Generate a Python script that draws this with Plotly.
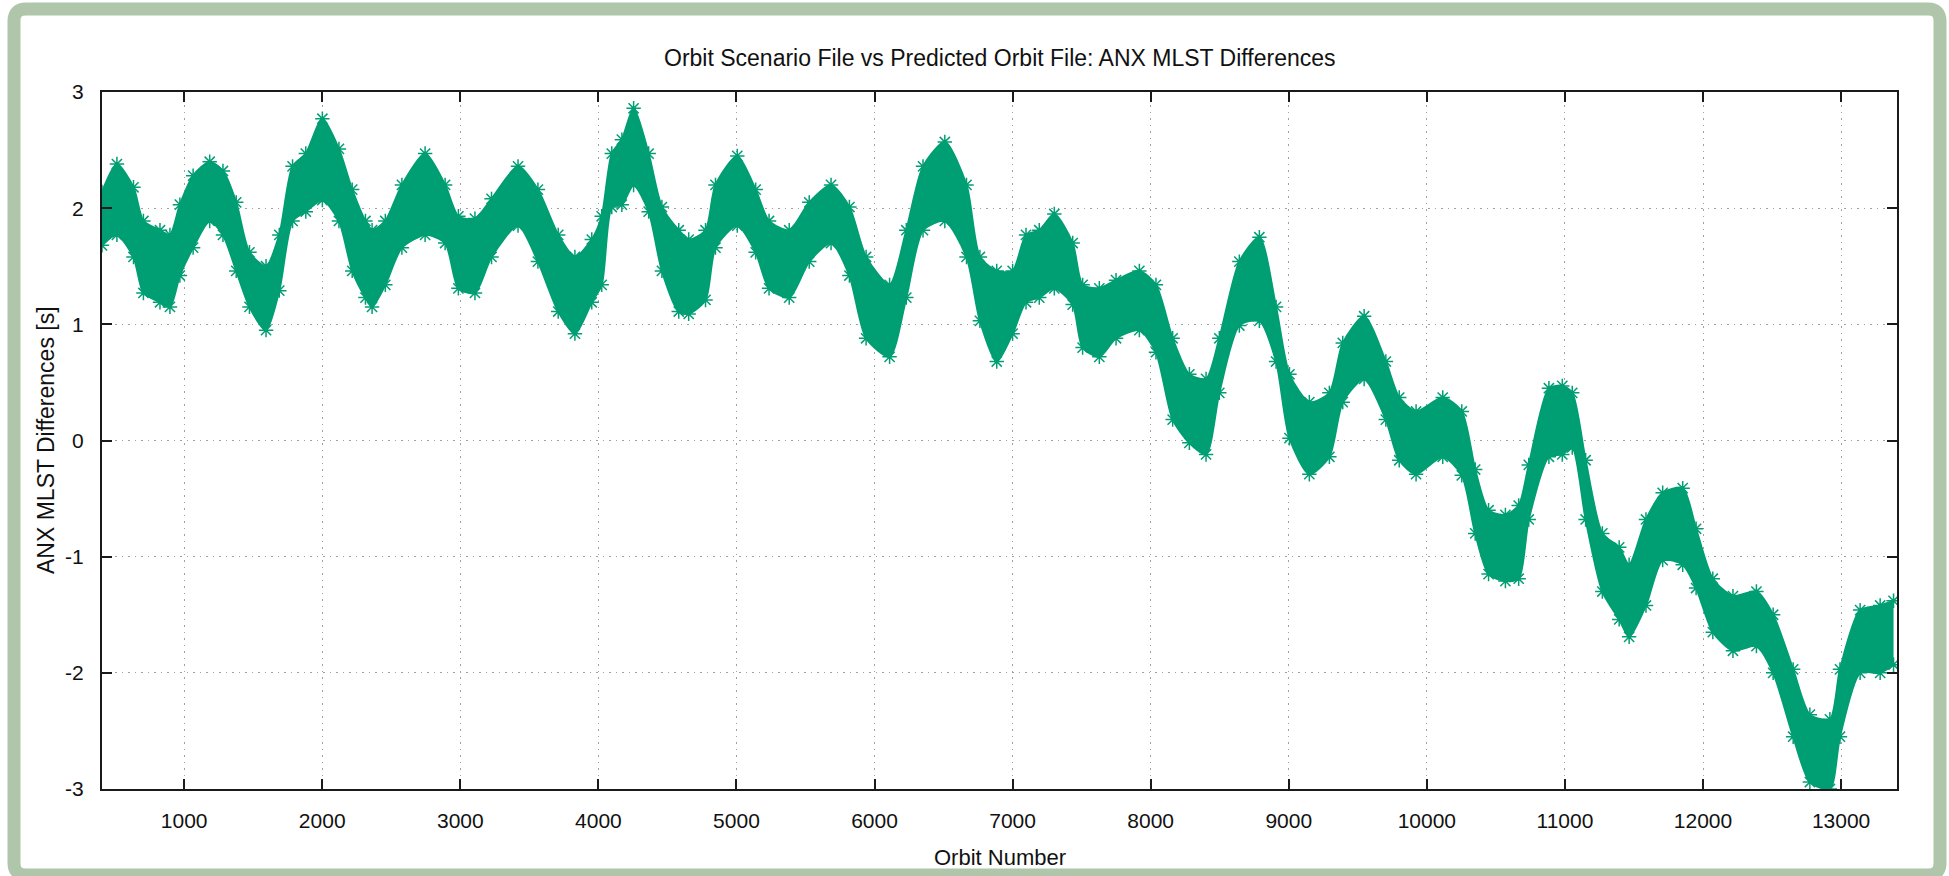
import plotly.graph_objects as go

# ---- data (orbit number, upper / lower edge of the point cloud) ----
orbit = [405, 513, 633, 705, 825, 897, 969, 1065, 1185, 1281, 1377, 1473, 1593, 1689, 1785, 1881,
         2001, 2121, 2217, 2313, 2361, 2457, 2577, 2745, 2890, 2986, 3106, 3226, 3418, 3562, 3709,
         3830, 3952, 4024, 4097, 4170, 4255, 4364, 4460, 4582, 4654, 4776, 4848, 5006, 5139, 5236,
         5382, 5527, 5685, 5818, 5939, 6109, 6230, 6351, 6509, 6666, 6763, 6885, 7000, 7097, 7193,
         7302, 7435, 7507, 7628, 7749, 7918, 8038, 8159, 8280, 8401, 8497, 8642, 8787, 8908, 9005,
         9149, 9294, 9391, 9546, 9703, 9800, 9922, 10115, 10253, 10350, 10447, 10569, 10665, 10738,
         10884, 10981, 11053, 11150, 11271, 11393, 11465, 11587, 11708, 11853, 11950, 12071, 12217,
         12387, 12508, 12653, 12774, 12919, 12992, 13138, 13283, 13380]
upper = [2.14, 2.38, 2.18, 1.89, 1.81, 1.77, 2.03, 2.28, 2.40, 2.32, 2.05, 1.62, 1.50, 1.77, 2.36, 2.47,
         2.77, 2.51, 2.16, 1.89, 1.81, 1.89, 2.20, 2.47, 2.20, 1.93, 1.91, 2.08, 2.36, 2.16, 1.77,
         1.58, 1.73, 1.93, 2.47, 2.59, 2.86, 2.47, 2.01, 1.81, 1.73, 1.81, 2.20, 2.45, 2.16, 1.89,
         1.81, 2.05, 2.20, 2.01, 1.58, 1.34, 1.81, 2.36, 2.57, 2.20, 1.58, 1.46, 1.46, 1.77, 1.81,
         1.95, 1.70, 1.34, 1.31, 1.38, 1.46, 1.34, 0.88, 0.57, 0.53, 0.88, 1.54, 1.75, 1.15, 0.57,
         0.33, 0.41, 0.84, 1.07, 0.68, 0.37, 0.25, 0.37, 0.25, -0.25, -0.60, -0.64, -0.56, -0.21,
         0.45, 0.47, 0.41, -0.17, -0.80, -0.92, -1.07, -0.68, -0.45, -0.41, -0.76, -1.19, -1.34,
         -1.30, -1.50, -1.97, -2.36, -2.40, -1.97, -1.46, -1.42, -1.38]
lower = [1.68, 1.77, 1.58, 1.27, 1.19, 1.15, 1.42, 1.66, 1.89, 1.77, 1.46, 1.15, 0.95, 1.29, 1.89, 1.97,
         2.07, 1.89, 1.46, 1.23, 1.15, 1.34, 1.66, 1.77, 1.70, 1.31, 1.27, 1.58, 1.85, 1.54, 1.11,
         0.92, 1.19, 1.34, 2.01, 2.03, 2.20, 1.97, 1.46, 1.11, 1.09, 1.21, 1.66, 1.85, 1.62, 1.31,
         1.23, 1.54, 1.70, 1.42, 0.88, 0.72, 1.23, 1.81, 1.89, 1.58, 1.03, 0.68, 0.92, 1.19, 1.23,
         1.31, 1.17, 0.80, 0.72, 0.88, 0.95, 0.76, 0.18, -0.02, -0.12, 0.41, 0.99, 1.03, 0.68, 0.02,
         -0.29, -0.14, 0.33, 0.53, 0.18, -0.17, -0.29, -0.14, -0.30, -0.80, -1.15, -1.21, -1.19, -0.68,
         -0.14, -0.12, -0.06, -0.68, -1.30, -1.54, -1.69, -1.42, -1.03, -1.07, -1.27, -1.65, -1.81,
         -1.77, -2.00, -2.55, -2.94, -3.00, -2.55, -2.00, -2.00, -1.93]

x_ticks = [1000, 2000, 3000, 4000, 5000, 6000, 7000, 8000, 9000, 10000, 11000, 12000, 13000]
x_tick_labels = ["1000", "2000", "3000", "4000", "5000", "6000", "7000", "8000", "9000",
                 "10000", "11000", "12000", "13000"]
y_ticks = [-3, -2, -1, 0, 1, 2, 3]
y_tick_labels = ["-3", "-2", "-1", "0", "1", "2", "3"]

title_text = "Orbit Scenario File vs Predicted Orbit File: ANX MLST Differences"
x_title = "Orbit Number"
y_title = "ANX MLST Differences [s]"

GREEN = "#009e73"
FONT = "Liberation Sans, Arial, Helvetica, sans-serif"

W, H = 1949, 876
ML, MR, MT, MB = 102, 52, 92, 87
PW, PH = W - ML - MR, H - MT - MB


def px(xp):
    return (xp - ML) / PW


def py(yp):
    return (H - MB - yp) / PH


edge_marker = dict(symbol="asterisk-open", size=12, color=GREEN, line=dict(color=GREEN, width=1.5))
fig = go.Figure()
fig.add_trace(go.Scatter(
    x=orbit, y=lower, mode="lines+markers",
    line=dict(color=GREEN, width=2, shape="spline", smoothing=0.7),
    marker=edge_marker, showlegend=False, hoverinfo="skip", cliponaxis=True))
fig.add_trace(go.Scatter(
    x=orbit, y=upper, mode="lines+markers", fill="tonexty", fillcolor=GREEN,
    line=dict(color=GREEN, width=2, shape="spline", smoothing=0.7),
    marker=edge_marker, showlegend=False, hoverinfo="skip", cliponaxis=True))

axis_common = dict(
    showline=True, linecolor="#1a1a1a", linewidth=2, mirror="ticks",
    ticks="inside", ticklen=10, tickwidth=2, tickcolor="#1a1a1a",
    showgrid=True, gridcolor="#a0a0a0", gridwidth=1, griddash="1.5px,5px",
    zeroline=False, tickfont=dict(family=FONT, size=21, color="#111"),
)
fig.update_xaxes(range=[405, 13405], tickvals=x_ticks, ticktext=x_tick_labels,
                 ticklabelstandoff=12, **axis_common)
fig.update_yaxes(range=[-3, 3], tickvals=y_ticks, ticktext=y_tick_labels,
                 ticklabelstandoff=12, **axis_common)

# rounded green frame around the whole picture
x0, x1, y0, y1, r = px(14), px(1940), py(9), py(875), 12
rx, ry = r / PW, r / PH
path = (f"M {x0+rx},{y0} L {x1-rx},{y0} Q {x1},{y0} {x1},{y0-ry} "
        f"L {x1},{y1+ry} Q {x1},{y1} {x1-rx},{y1} "
        f"L {x0+rx},{y1} Q {x0},{y1} {x0},{y1+ry} "
        f"L {x0},{y0-ry} Q {x0},{y0} {x0+rx},{y0} Z")
fig.add_shape(type="path", path=path, xref="paper", yref="paper",
              line=dict(color="#b0c6aa", width=13), layer="above")

fig.add_annotation(text=title_text, x=px(1000), y=py(58), xref="paper", yref="paper",
                   showarrow=False, xanchor="center", yanchor="middle",
                   font=dict(family=FONT, size=23, color="#111"))
fig.add_annotation(text=x_title, x=px(1000), y=py(857), xref="paper", yref="paper",
                   showarrow=False, xanchor="center", yanchor="middle",
                   font=dict(family=FONT, size=22, color="#111"))
fig.add_annotation(text=y_title, x=px(46), y=py(440), xref="paper", yref="paper",
                   showarrow=False, xanchor="center", yanchor="middle", textangle=-90,
                   font=dict(family=FONT, size=23, color="#111"))

fig.update_layout(
    width=W, height=H,
    margin=dict(l=ML, r=MR, t=MT, b=MB, pad=0),
    paper_bgcolor="white", plot_bgcolor="white",
    showlegend=False,
)

fig.write_html("out.html", config={"displayModeBar": False},
               post_script="document.body.style.margin='0';document.body.style.overflow='hidden';")
